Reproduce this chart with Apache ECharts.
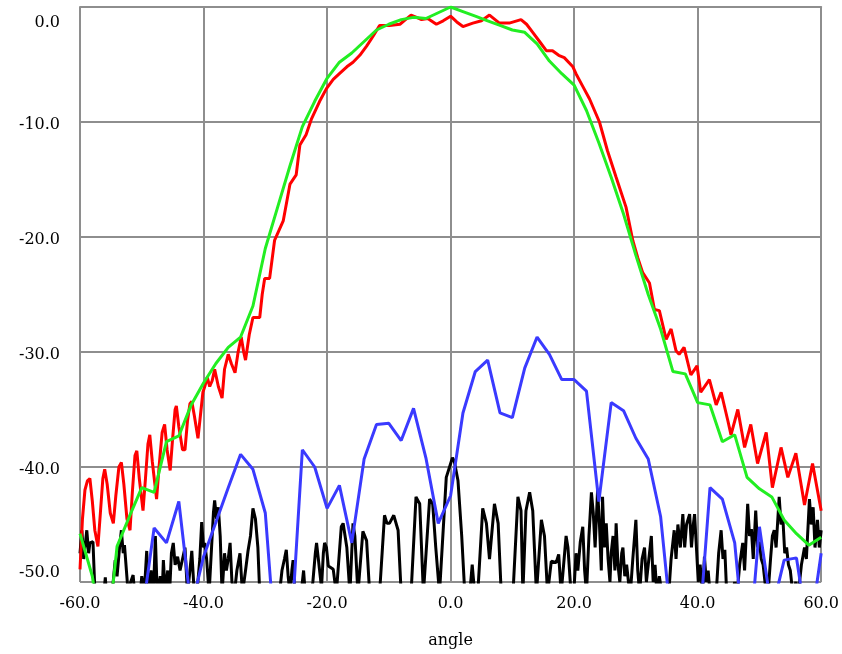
<!DOCTYPE html>
<html>
<head>
<meta charset="utf-8">
<script src="https://cdn.jsdelivr.net/npm/echarts@6/dist/echarts.min.js"></script>
<style>
  html, body { margin: 0; padding: 0; background: #ffffff; }
  #chart { width: 842px; height: 654px; }
</style>
</head>
<body>
<div id="chart"></div>
<script>
// Angle ticks and dB ticks
const xTicks = [-60, -40, -20, 0, 20, 40, 60];
const yTicks = [-50, -40, -30, -20, -10, 0];

// Green: reference pattern, sampled every 2 degrees
const greenAngle = [-60,-58,-56,-54,-52,-50,-48,-46,-44,-42,-40,-38,-36,-34,-32,-30,-28,-26,-24,-22,-20,-18,-16,-14,-12,-10,-8,-6,-4,-2,0,2,4,6,8,10,12,14,16,18,20,22,24,26,28,30,32,34,36,38,40,42,44,46,48,50,52,54,56,58,60];
const greenDb = [-45.8,-49.5,-57,-46.9,-44.3,-41.8,-42.2,-37.8,-37.3,-34.6,-32.7,-31.0,-29.6,-28.7,-26.0,-21.0,-17.4,-13.8,-10.4,-8.2,-6.2,-4.8,-4.0,-3.0,-2.0,-1.5,-1.1,-0.9,-1.0,-0.5,0.0,-0.4,-0.8,-1.2,-1.6,-2.0,-2.2,-3.2,-4.7,-5.8,-6.8,-9.0,-11.8,-14.8,-18.0,-21.6,-25.0,-28.0,-31.7,-31.9,-34.4,-34.6,-37.8,-37.2,-40.9,-41.9,-42.6,-44.6,-45.8,-46.8,-46.1];

// Blue: second pattern, same 2-degree sampling
const blueAngle = greenAngle;
const blueDb = [-58,-60,-57,-59,-56,-53.1,-45.3,-46.6,-43.0,-52.3,-47.8,-44.8,-41.8,-38.9,-40.2,-44.0,-58,-56,-38.5,-40.0,-43.6,-41.6,-46.6,-39.3,-36.3,-36.2,-37.7,-34.9,-39.2,-44.9,-42.5,-35.3,-31.7,-30.7,-35.3,-35.7,-31.4,-28.7,-30.2,-32.4,-32.4,-33.4,-43.0,-34.4,-35.1,-37.5,-39.3,-44.3,-55,-60,-56,-41.8,-42.8,-46.6,-58,-45.2,-52.6,-48.1,-47.9,-55,-47.5];

// Red: measured pattern
const redAngle = [-60,-59.6,-59.2,-58.8,-58.4,-58.0,-57.6,-57.1,-56.7,-56.3,-56.0,-55.6,-55.1,-54.6,-54.2,-53.7,-53.3,-52.9,-52.4,-51.9,-51.5,-51.1,-50.8,-50.4,-49.8,-49.4,-49.0,-48.7,-48.3,-47.6,-47.2,-46.7,-46.3,-45.9,-45.4,-45.0,-44.6,-44.4,-44.0,-43.4,-43.0,-42.6,-42.2,-41.9,-41.5,-40.9,-40.5,-40.1,-39.8,-39.4,-39.0,-38.6,-38.2,-37.6,-37.0,-36.6,-36.0,-35.5,-34.9,-34.4,-33.9,-33.5,-33.2,-32.6,-32.0,-30.9,-30.5,-30.1,-29.3,-28.5,-27.1,-26.0,-25.0,-24.4,-23.4,-22.5,-21.2,-20.1,-19.0,-18.0,-16.8,-15.8,-14.7,-13.6,-12.5,-11.5,-9.9,-8.2,-7.3,-6.4,-5.5,-4.7,-3.7,-2.3,-1.2,0.0,1.0,2.0,3.6,5.0,6.3,7.9,9.5,11.4,12.3,13.3,14.4,15.5,16.5,17.5,18.4,19.8,20.3,21.4,22.5,23.3,24.1,25.4,26.8,28.4,29.5,30.3,31.1,32.2,33.0,33.8,34.9,35.7,36.5,37.0,37.8,38.9,39.9,40.5,41.9,43.0,43.8,44.9,45.4,46.5,47.6,48.6,49.7,51.1,52.1,53.5,54.6,55.9,57.3,58.6,60.0];
const redDb = [-48.9,-44.5,-42,-41.2,-41.0,-43,-45.5,-46.9,-44,-41,-40.2,-41.5,-44,-44.9,-42.5,-40,-39.6,-41.5,-44.5,-45.5,-42,-39,-38.6,-41,-43.8,-41,-38,-37.2,-39.5,-42.8,-40,-37,-36.3,-38.5,-40.3,-37.5,-35,-34.7,-36.5,-38.5,-38.5,-36,-34.5,-34.3,-35.5,-37.5,-35.5,-33.5,-33.0,-32.2,-33,-32.5,-31.5,-33,-34.0,-31.5,-30.2,-31,-31.8,-30,-28.7,-30,-30.7,-28.5,-27.0,-27.0,-25,-23.6,-23.6,-20.3,-18.6,-15.4,-14.6,-12.0,-11.1,-9.7,-8.2,-7.1,-6.3,-5.8,-5.2,-4.8,-4.2,-3.4,-2.5,-1.6,-1.6,-1.5,-1.1,-0.7,-0.9,-1.1,-1.0,-1.5,-1.2,-0.8,-1.3,-1.7,-1.4,-1.2,-0.7,-1.4,-1.4,-1.1,-1.5,-2.2,-3.0,-3.8,-3.8,-4.2,-4.4,-5.2,-5.8,-6.9,-8.0,-9.0,-10.0,-12.5,-14.8,-17.4,-20.3,-21.8,-23.1,-24.0,-26.3,-26.4,-28.9,-28.0,-29.9,-30.2,-29.6,-32.0,-31.2,-33.5,-32.4,-34.6,-33.5,-36.0,-37.2,-35.0,-38.3,-36.3,-39.7,-37.0,-41.8,-38.3,-40.9,-38.8,-43.3,-39.7,-43.8];

// Black: residual pattern
const blackAngle = [-60,-59.7,-59.4,-58.9,-58.6,-58.4,-57.9,-57.5,-56.5,-55.9,-55.5,-54.8,-54.3,-54.0,-53.6,-53.3,-53.0,-52.8,-52.2,-51.8,-51.4,-51.0,-50.4,-50.0,-49.6,-49.2,-48.9,-48.5,-48.1,-47.8,-47.5,-47.0,-46.7,-46.5,-46.2,-45.8,-45.5,-45.2,-44.9,-44.6,-44.2,-43.8,-43.4,-43.0,-42.6,-42.2,-41.9,-41.5,-41.0,-40.6,-40.3,-40.0,-39.8,-39.5,-39.1,-38.7,-38.4,-38.2,-37.9,-37.6,-37.3,-37.0,-36.6,-36.3,-36.0,-35.7,-35.4,-35.0,-34.6,-34.1,-33.7,-33.2,-32.8,-32.4,-32.0,-31.6,-31.2,-30.9,-30.4,-29.5,-28.5,-27.7,-27.3,-26.9,-26.6,-26.3,-26.0,-25.7,-25.5,-25.2,-24.6,-24.2,-23.8,-23.4,-22.8,-22.3,-21.9,-21.7,-21.4,-20.9,-20.6,-20.4,-20.1,-19.8,-19.5,-19.0,-18.5,-17.7,-17.4,-17.1,-16.8,-16.3,-15.8,-15.5,-15.0,-14.2,-13.6,-13.1,-12.3,-11.5,-10.7,-10.3,-9.9,-9.2,-8.5,-8.0,-7.2,-6.4,-5.6,-5.3,-5.0,-4.4,-3.4,-2.9,-2.4,-1.8,-0.7,0.3,0.6,1.2,1.8,2.3,3.1,3.5,3.9,4.4,5.2,5.8,6.3,7.1,7.7,8.2,9.2,10.1,10.9,11.4,11.7,12.2,12.8,13.3,13.9,14.7,15.2,15.7,16.3,17.1,17.5,17.9,18.7,19.0,19.5,20.0,20.3,20.6,21.0,21.4,21.7,22.0,22.4,22.8,23.1,23.4,23.8,24.1,24.4,24.6,24.9,25.2,25.5,25.8,26.0,26.3,26.6,26.8,27.1,27.4,27.7,27.9,28.2,28.5,28.8,29.1,29.5,30.0,30.3,30.6,31.0,31.4,31.7,32.0,32.5,32.8,33.1,33.4,33.8,34.2,34.6,35.2,35.7,36.2,36.5,36.8,37.2,37.6,37.9,38.2,38.7,39.0,39.3,39.5,39.8,40.1,40.4,40.8,41.1,41.4,41.7,42.0,42.5,43.0,43.4,43.8,44.1,44.4,44.7,45.1,45.6,46.0,46.4,46.8,47.3,47.6,48.1,48.4,48.7,49.0,49.4,49.7,50.0,50.3,50.6,51.0,51.4,51.8,52.1,52.4,52.7,53.2,53.5,53.8,54.1,54.4,54.7,55.0,55.4,55.9,56.3,56.8,57.3,57.6,58.1,58.4,58.7,59.0,59.4,59.7,60.0];
const blackDb = [-47.5,-45.5,-48,-45.5,-47.5,-46.6,-46.5,-52,-53,-49.6,-53,-51,-48.1,-49.5,-47,-45.5,-47.5,-46.8,-51,-50,-49.4,-52,-52,-49.5,-51,-47.3,-51,-49,-51,-46.0,-51,-49.5,-51,-48.1,-51,-49,-51,-47.5,-46.6,-48.5,-47.8,-49,-48,-47.0,-51,-49,-47.3,-51,-50.5,-48,-44.8,-47,-46.6,-48,-51,-47,-44,-42.9,-44.5,-43.5,-46,-51,-47.5,-49,-48,-46.6,-50,-51,-49,-47.5,-51,-49,-47.3,-46,-43.6,-44.5,-47,-51,-51.5,-52,-52,-51,-49,-48,-47.2,-49.5,-51,-49,-48.1,-51,-52,-51,-49,-52,-52,-50,-47.5,-46.6,-46.6,-50.5,-47.5,-46.6,-47,-48.6,-48.5,-48.9,-51,-45.2,-44.9,-45,-47,-51,-44.9,-46,-51,-45.6,-46.4,-51,-53,-51,-44.2,-44.9,-44.9,-44.2,-45.5,-51,-53,-51,-42.6,-42.9,-43.2,-51,-42.8,-43.2,-47,-51,-40.9,-39.2,-39.5,-41.2,-46,-51,-51,-48.5,-51,-51,-43.6,-44.9,-48,-43.2,-44.9,-51,-53,-51,-42.6,-43.8,-51,-43.8,-42.2,-43.8,-51,-44.6,-46.0,-51,-48.2,-48.3,-47.6,-51,-46.0,-47,-51,-50.5,-47.5,-49,-46.5,-45.2,-49,-51,-46,-42.2,-44,-47,-42.0,-45,-49,-42.6,-47,-44.9,-48,-50,-47.5,-46.0,-49,-44.9,-48.5,-50,-47.5,-47.0,-49.5,-48.5,-50,-51,-48,-44.6,-49,-51,-48,-47.0,-50,-48.5,-46.0,-50,-48.5,-51,-49.5,-51,-52,-52,-48,-45.5,-48,-45,-47,-44.1,-47,-45,-44.1,-47,-45,-44.1,-47,-50,-48.5,-51,-47.8,-50,-49,-51,-52,-51,-47.5,-45.5,-48,-47.2,-51,-52,-51,-50,-51,-48.5,-46.6,-49,-43.2,-46,-45.4,-48,-43.8,-47,-46.5,-48,-48.5,-50.5,-51,-48,-46,-45.5,-47,-42.6,-45,-44.5,-47.5,-47,-48.5,-49,-51,-50,-51,-48.5,-47.0,-48,-42.8,-45,-43.5,-47,-44.6,-47,-45.5];

function pairs(xs, ys) {
  return xs.map((x, i) => [x, ys[i]]);
}

const FONT = '"DejaVu Serif", "Liberation Serif", serif';
const GRID_COLOR = '#8e8e8e';

const chart = echarts.init(document.getElementById('chart'), null, { renderer: 'canvas' });

function lineSeries(name, data, color) {
  return {
    name: name,
    type: 'line',
    data: data,
    showSymbol: false,
    symbol: 'none',
    clip: true,
    lineStyle: { color: color, width: 3 },
    emphasis: { disabled: true },
    animation: false
  };
}

chart.setOption({
  backgroundColor: '#ffffff',
  animation: false,
  grid: { left: 80, right: 20, top: 7, bottom: 65, containLabel: false },
  xAxis: {
    type: 'value',
    min: xTicks[0],
    max: xTicks[xTicks.length - 1],
    interval: 20,
    name: 'angle',
    nameLocation: 'middle',
    nameGap: 51,
    nameTextStyle: { fontFamily: FONT, fontSize: 16, color: '#000' },
    axisLine: { show: true, lineStyle: { color: GRID_COLOR, width: 2 } },
    axisTick: { show: false },
    axisLabel: {
      margin: 14,
      fontFamily: FONT, fontSize: 16, color: '#000',
      formatter: v => v.toFixed(1)
    },
    splitLine: { show: true, lineStyle: { color: GRID_COLOR, width: 2 } }
  },
  yAxis: {
    type: 'value',
    min: yTicks[0],
    max: yTicks[yTicks.length - 1],
    interval: 10,
    axisLine: { show: true, lineStyle: { color: GRID_COLOR, width: 2 } },
    axisTick: { show: false },
    axisLabel: {
      margin: 20,
      fontFamily: FONT, fontSize: 16, color: '#000',
      formatter: v => {
        const s = v.toFixed(1);
        if (v === yTicks[yTicks.length - 1]) return '{top|' + s + '}';
        if (v === yTicks[0]) return '{bot|' + s + '}';
        return '{mid|' + s + '}';
      },
      rich: {
        top: { fontFamily: FONT, fontSize: 16, color: '#000', padding: [32, 0, 0, 0] },
        bot: { fontFamily: FONT, fontSize: 16, color: '#000', padding: [0, 0, 18, 0] },
        mid: { fontFamily: FONT, fontSize: 16, color: '#000', padding: [6, 0, 0, 0] }
      }
    },
    splitLine: { show: true, lineStyle: { color: GRID_COLOR, width: 2 } }
  },
  series: [
    lineSeries('black', pairs(blackAngle, blackDb), '#000000'),
    lineSeries('red', pairs(redAngle, redDb), '#ff0000'),
    lineSeries('green', pairs(greenAngle, greenDb), '#22ee22'),
    lineSeries('blue', pairs(blueAngle, blueDb), '#3a3aff')
  ]
});
</script>
</body>
</html>
